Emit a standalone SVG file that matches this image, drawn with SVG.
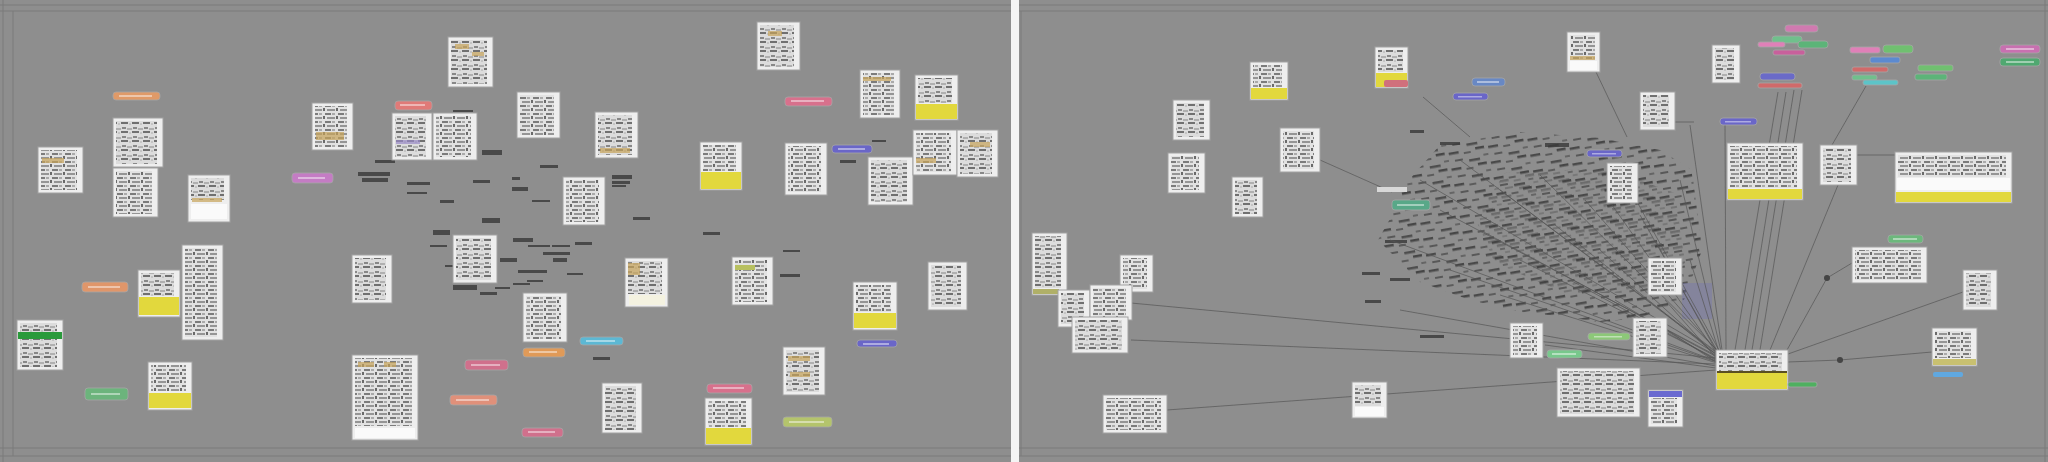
<svg xmlns="http://www.w3.org/2000/svg" width="2048" height="462" viewBox="0 0 2048 462">
<defs>
<pattern id="t" width="13" height="8" patternUnits="userSpaceOnUse">
<rect width="13" height="8" fill="#e2e2e2"/>
<rect x="0" y="1" width="6" height="2" fill="#7c7c7c"/>
<rect x="7" y="1" width="3" height="2" fill="#aaa"/>
<rect x="2" y="5" width="8" height="2" fill="#959595"/>
<rect x="11" y="4" width="2" height="3" fill="#6a6a6a"/>
</pattern>
<pattern id="t2" width="11" height="9" patternUnits="userSpaceOnUse">
<rect width="11" height="9" fill="#dcdcdc"/>
<rect x="1" y="1" width="4" height="2" fill="#888"/>
<rect x="6" y="2" width="5" height="2" fill="#b0b0b0"/>
<rect x="0" y="5" width="7" height="2" fill="#707070"/>
<rect x="8" y="6" width="2" height="2" fill="#c4c4c4"/>
</pattern>
<pattern id="d" width="40" height="16" patternUnits="userSpaceOnUse" patternTransform="rotate(-10)">
<rect x="0" y="2" width="10" height="2.5" fill="#3a3a3a"/>
<rect x="15" y="4" width="7" height="2" fill="#505050"/>
<rect x="27" y="1" width="9" height="2.5" fill="#343434"/>
<rect x="5" y="10" width="8" height="2" fill="#4a4a4a"/>
<rect x="19" y="12" width="11" height="2.5" fill="#3e3e3e"/>
<rect x="34" y="9" width="5" height="2" fill="#5a5a5a"/>
</pattern>
<filter id="soft" x="0" y="0" width="1" height="1"><feGaussianBlur stdDeviation="0.55"/></filter>
</defs>
<style>
.bg{fill:#8e8e8e}
.fr{stroke:#7b7b7b;stroke-width:1;fill:none}
.card{fill:#eeeeee;stroke:#a2a2a2;stroke-width:1}
.tx{fill:url(#t)}
.tx2{fill:url(#t2)}
.yel{fill:#e2d83c}
.wb{fill:#fafafa}
.tan{fill:#c8a45a;opacity:.7}
.pill{stroke:#a6a6a6;stroke-width:.8}
.pt{fill:#fff;opacity:.45}
.lb{fill:#3a3a3a;opacity:.8}
.conn line{stroke:#555;stroke-width:1;fill:none;opacity:.7}
</style>
<rect class="bg" x="0" y="0" width="2048" height="462"/>
<g id="scene" filter="url(#soft)">
<g id="frame">
<line class="fr" x1="0" y1="5" x2="2048" y2="5"/>
<line class="fr" x1="0" y1="11" x2="2048" y2="11"/>
<line class="fr" x1="0" y1="448" x2="2048" y2="448"/>
<line class="fr" x1="0" y1="456" x2="2048" y2="456"/>
<line class="fr" x1="3" y1="0" x2="3" y2="462"/>
<line class="fr" x1="13" y1="11" x2="13" y2="456"/>
<line class="fr" x1="1021" y1="11" x2="1021" y2="456"/>
<line class="fr" x1="2045" y1="0" x2="2045" y2="462"/>
<rect x="1011" y="0" width="8" height="462" fill="#f4f4f4"/>
</g>

<g id="dense-left">
<rect class="lb" x="358" y="172" width="32" height="4"/><rect class="lb" x="362" y="178" width="26" height="4"/>
<rect class="lb" x="482" y="150" width="20" height="5"/><rect class="lb" x="512" y="177" width="8" height="3"/>
<rect class="lb" x="512" y="187" width="16" height="4"/><rect class="lb" x="407" y="182" width="23" height="3"/>
<rect class="lb" x="407" y="192" width="20" height="2"/><rect class="lb" x="473" y="180" width="17" height="3"/>
<rect class="lb" x="532" y="200" width="18" height="2"/><rect class="lb" x="612" y="175" width="20" height="4"/>
<rect class="lb" x="612" y="181" width="18" height="3"/><rect class="lb" x="612" y="185" width="14" height="2"/>
<rect class="lb" x="453" y="110" width="20" height="2"/><rect class="lb" x="633" y="217" width="17" height="3"/>
<rect class="lb" x="482" y="218" width="18" height="5"/><rect class="lb" x="433" y="230" width="17" height="5"/>
<rect class="lb" x="430" y="245" width="17" height="2"/><rect class="lb" x="513" y="238" width="20" height="4"/>
<rect class="lb" x="528" y="245" width="22" height="2"/><rect class="lb" x="552" y="245" width="18" height="2"/>
<rect class="lb" x="543" y="252" width="27" height="3"/><rect class="lb" x="553" y="258" width="14" height="4"/>
<rect class="lb" x="500" y="258" width="17" height="4"/><rect class="lb" x="445" y="265" width="10" height="2"/>
<rect class="lb" x="518" y="270" width="29" height="3"/><rect class="lb" x="567" y="273" width="16" height="2"/>
<rect class="lb" x="527" y="280" width="16" height="2"/><rect class="lb" x="513" y="283" width="17" height="2"/>
<rect class="lb" x="495" y="287" width="15" height="2"/><rect class="lb" x="453" y="285" width="24" height="5"/>
<rect class="lb" x="480" y="292" width="17" height="3"/><rect class="lb" x="575" y="242" width="17" height="3"/>
<rect class="lb" x="703" y="232" width="17" height="3"/><rect class="lb" x="593" y="357" width="17" height="3"/>
<rect class="lb" x="783" y="250" width="17" height="2"/><rect class="lb" x="780" y="274" width="20" height="3"/>
<rect class="lb" x="540" y="165" width="18" height="3"/><rect class="lb" x="590" y="200" width="14" height="3"/>
<rect class="lb" x="375" y="160" width="20" height="3"/><rect class="lb" x="440" y="200" width="14" height="3"/>
<rect class="lb" x="840" y="160" width="16" height="3"/><rect class="lb" x="872" y="140" width="14" height="2"/>
</g>

<g id="nodes-left">
<g id="L1"><rect class="card" x="38" y="147" width="45" height="46"/><rect class="tx" x="41" y="150" width="36" height="40"/><rect class="tan" x="42" y="158" width="22" height="5"/></g>
<g id="L2"><rect class="card" x="113" y="118" width="50" height="49"/><rect class="tx2" x="116" y="121" width="41" height="43"/></g>
<g id="L3"><rect class="card" x="113" y="168" width="45" height="49"/><rect class="tx" x="116" y="171" width="36" height="43"/></g>
<g id="L4"><rect class="card" x="188" y="175" width="42" height="47"/><rect class="tx2" x="191" y="178" width="33" height="22"/><rect class="tan" x="192" y="198" width="30" height="4"/><rect class="wb" x="191" y="204" width="36" height="15"/></g>
<g id="L5"><rect class="card" x="312" y="103" width="41" height="47"/><rect class="tx" x="315" y="106" width="32" height="41"/><rect class="tan" x="316" y="132" width="28" height="8"/></g>
<g id="L6"><rect class="card" x="392" y="113" width="40" height="47"/><rect class="tx2" x="395" y="116" width="31" height="41"/><rect x="396" y="140" width="24" height="4" fill="#9a8ac8" opacity=".7"/></g>
<g id="L7"><rect class="card" x="433" y="113" width="44" height="47"/><rect class="tx" x="436" y="116" width="35" height="41"/></g>
<g id="L8"><rect class="card" x="448" y="37" width="45" height="50"/><rect class="tx2" x="451" y="40" width="36" height="44"/><rect class="tan" x="455" y="44" width="14" height="5"/><rect class="tan" x="472" y="52" width="12" height="4"/></g>
<g id="L9"><rect class="card" x="517" y="92" width="43" height="46"/><rect class="tx" x="520" y="95" width="34" height="40"/></g>
<g id="L10"><rect class="card" x="595" y="112" width="43" height="46"/><rect class="tx2" x="598" y="115" width="34" height="40"/><rect class="tan" x="600" y="148" width="30" height="5"/></g>
<g id="L11"><rect class="card" x="700" y="142" width="42" height="48"/><rect class="tx" x="703" y="145" width="33" height="26"/><rect class="yel" x="701" y="172" width="40" height="17"/></g>
<g id="L12"><rect class="card" x="757" y="22" width="43" height="48"/><rect class="tx2" x="760" y="25" width="34" height="42"/><rect class="tan" x="768" y="31" width="14" height="5"/></g>
<g id="L13"><rect class="card" x="860" y="70" width="40" height="48"/><rect class="tx" x="863" y="73" width="31" height="42"/><rect class="tan" x="863" y="77" width="28" height="4"/></g>
<g id="L14"><rect class="card" x="915" y="75" width="43" height="45"/><rect class="tx2" x="918" y="78" width="34" height="25"/><rect class="yel" x="916" y="104" width="41" height="15"/></g>
<g id="L15"><rect class="card" x="785" y="143" width="42" height="52"/><rect class="tx" x="788" y="146" width="33" height="46"/></g>
<g id="L16"><rect class="card" x="868" y="157" width="45" height="48"/><rect class="tx2" x="871" y="160" width="36" height="42"/></g>
<g id="L17"><rect class="card" x="913" y="130" width="44" height="45"/><rect class="tx" x="916" y="133" width="35" height="39"/><rect class="tan" x="916" y="158" width="20" height="5"/></g>
<g id="L18"><rect class="card" x="957" y="130" width="41" height="47"/><rect class="tx2" x="960" y="133" width="32" height="41"/><rect class="tan" x="970" y="142" width="20" height="5"/></g>
<g id="L19"><rect class="card" x="563" y="177" width="42" height="48"/><rect class="tx" x="566" y="180" width="33" height="42"/></g>
<g id="L20"><rect class="card" x="138" y="270" width="42" height="47"/><rect class="tx2" x="141" y="273" width="33" height="23"/><rect class="yel" x="139" y="297" width="40" height="18"/></g>
<g id="L21"><rect class="card" x="182" y="245" width="41" height="95"/><rect class="tx" x="185" y="248" width="32" height="89"/></g>
<g id="L22"><rect class="card" x="17" y="320" width="46" height="50"/><rect class="tx2" x="20" y="323" width="37" height="44"/><rect x="18" y="332" width="44" height="7" fill="#2a9a3a"/></g>
<g id="L23"><rect class="card" x="148" y="362" width="44" height="48"/><rect class="tx" x="151" y="365" width="35" height="26"/><rect class="yel" x="149" y="393" width="42" height="15"/></g>
<g id="L24"><rect class="card" x="352" y="255" width="40" height="48"/><rect class="tx2" x="355" y="258" width="31" height="42"/></g>
<g id="L25"><rect class="card" x="352" y="355" width="66" height="85"/><rect class="tx" x="355" y="358" width="57" height="68"/><rect class="tan" x="358" y="362" width="16" height="5"/><rect class="tan" x="384" y="362" width="12" height="5"/><rect class="wb" x="355" y="428" width="60" height="10"/></g>
<g id="L26"><rect class="card" x="453" y="235" width="44" height="48"/><rect class="tx2" x="456" y="238" width="35" height="42"/></g>
<g id="L27"><rect class="card" x="523" y="293" width="44" height="49"/><rect class="tx" x="526" y="296" width="35" height="43"/></g>
<g id="L28"><rect class="card" x="625" y="258" width="43" height="49"/><rect class="tx2" x="628" y="261" width="34" height="33"/><rect class="tan" x="628" y="263" width="12" height="12"/><rect x="629" y="295" width="36" height="10" fill="#f4f2e0"/></g>
<g id="L29"><rect class="card" x="732" y="257" width="41" height="48"/><rect class="tx" x="735" y="260" width="32" height="42"/><rect x="735" y="265" width="20" height="5" fill="#b8c060"/></g>
<g id="L30"><rect class="card" x="602" y="383" width="40" height="50"/><rect class="tx2" x="605" y="386" width="31" height="44"/></g>
<g id="L31"><rect class="card" x="705" y="398" width="47" height="47"/><rect class="tx" x="708" y="401" width="38" height="26"/><rect class="yel" x="706" y="428" width="45" height="16"/></g>
<g id="L32"><rect class="card" x="783" y="347" width="42" height="48"/><rect class="tx2" x="786" y="350" width="33" height="42"/><rect class="tan" x="788" y="356" width="22" height="5"/><rect class="tan" x="790" y="372" width="20" height="5"/></g>
<g id="L33"><rect class="card" x="853" y="282" width="44" height="48"/><rect class="tx" x="856" y="285" width="35" height="27"/><rect class="yel" x="854" y="313" width="42" height="15"/></g>
<g id="L34"><rect class="card" x="928" y="262" width="39" height="48"/><rect class="tx2" x="931" y="265" width="30" height="42"/></g>

<g id="P1"><rect class="pill" x="113" y="92" width="47" height="8" rx="3" fill="#e09a68"/><rect class="pt" x="119" y="95" width="33" height="2"/></g>
<g id="P2"><rect class="pill" x="292" y="173" width="41" height="10" rx="3" fill="#c47cc4"/><rect class="pt" x="298" y="177" width="27" height="2"/></g>
<g id="P3"><rect class="pill" x="395" y="101" width="37" height="9" rx="3" fill="#e07a78"/><rect class="pt" x="400" y="104" width="25" height="2"/></g>
<g id="P4"><rect class="pill" x="785" y="97" width="47" height="9" rx="3" fill="#d8708c"/><rect class="pt" x="791" y="100" width="33" height="2"/></g>
<g id="P5"><rect class="pill" x="832" y="145" width="40" height="8" rx="3" fill="#6a66c8"/><rect class="pt" x="838" y="148" width="27" height="2"/></g>
<g id="P6"><rect class="pill" x="82" y="282" width="46" height="10" rx="3" fill="#e0966a"/><rect class="pt" x="88" y="286" width="32" height="2"/></g>
<g id="P7"><rect class="pill" x="85" y="388" width="43" height="12" rx="3" fill="#6cb47c"/><rect class="pt" x="91" y="393" width="29" height="2"/></g>
<g id="P8"><rect class="pill" x="523" y="348" width="42" height="9" rx="3" fill="#e09a58"/><rect class="pt" x="529" y="351" width="28" height="2"/></g>
<g id="P9"><rect class="pill" x="580" y="337" width="43" height="8" rx="3" fill="#5cb8d4"/><rect class="pt" x="586" y="340" width="29" height="2"/></g>
<g id="P10"><rect class="pill" x="465" y="360" width="43" height="10" rx="3" fill="#d0708c"/><rect class="pt" x="471" y="364" width="29" height="2"/></g>
<g id="P11"><rect class="pill" x="450" y="395" width="47" height="10" rx="3" fill="#e0907a"/><rect class="pt" x="456" y="399" width="33" height="2"/></g>
<g id="P12"><rect class="pill" x="522" y="428" width="41" height="9" rx="3" fill="#d0708c"/><rect class="pt" x="528" y="431" width="27" height="2"/></g>
<g id="P13"><rect class="pill" x="707" y="384" width="45" height="9" rx="3" fill="#d8708c"/><rect class="pt" x="713" y="387" width="31" height="2"/></g>
<g id="P14"><rect class="pill" x="783" y="417" width="49" height="10" rx="3" fill="#b4c46c"/><rect class="pt" x="789" y="421" width="35" height="2"/></g>
<g id="P15"><rect class="pill" x="857" y="340" width="40" height="7" rx="3" fill="#6a66c8"/><rect class="pt" x="863" y="343" width="26" height="2"/></g>
</g>

<g id="dense-right">
<polygon points="1440,145 1520,132 1600,138 1660,150 1692,170 1702,250 1684,300 1640,318 1600,322 1560,316 1520,312 1470,300 1420,282 1378,240 1395,210 1400,190" fill="url(#d)" opacity=".8"/>
<polygon points="1500,170 1600,165 1670,190 1680,260 1640,290 1560,290 1490,260 1470,215" fill="url(#d)" opacity=".4" transform="translate(5,3)"/>
<rect x="1682" y="283" width="30" height="36" fill="#7272b4" opacity=".35"/>
<rect class="lb" x="1385" y="240" width="22" height="3"/><rect class="lb" x="1362" y="272" width="18" height="3"/>
<rect class="lb" x="1390" y="278" width="20" height="3"/><rect class="lb" x="1420" y="335" width="24" height="3"/>
<rect class="lb" x="1440" y="142" width="20" height="3"/><rect class="lb" x="1545" y="143" width="24" height="4"/>
<rect class="lb" x="1365" y="300" width="16" height="3"/><rect class="lb" x="1410" y="130" width="14" height="3"/>
</g>

<g id="connectors" class="conn">
<line x1="1131" y1="303" x2="1716" y2="358"/>
<line x1="1131" y1="340" x2="1716" y2="364"/>
<line x1="1167" y1="410" x2="1716" y2="370"/>
<line x1="1420" y1="180" x2="1717" y2="354"/>
<line x1="1440" y1="210" x2="1717" y2="356"/>
<line x1="1460" y1="160" x2="1718" y2="353"/>
<line x1="1480" y1="230" x2="1717" y2="357"/>
<line x1="1500" y1="190" x2="1718" y2="354"/>
<line x1="1520" y1="260" x2="1717" y2="359"/>
<line x1="1540" y1="175" x2="1719" y2="352"/>
<line x1="1555" y1="225" x2="1718" y2="356"/>
<line x1="1570" y1="280" x2="1717" y2="360"/>
<line x1="1585" y1="200" x2="1719" y2="353"/>
<line x1="1600" y1="250" x2="1718" y2="357"/>
<line x1="1615" y1="300" x2="1717" y2="361"/>
<line x1="1625" y1="180" x2="1720" y2="352"/>
<line x1="1640" y1="215" x2="1719" y2="354"/>
<line x1="1655" y1="240" x2="1719" y2="356"/>
<line x1="1665" y1="300" x2="1718" y2="360"/>
<line x1="1680" y1="180" x2="1721" y2="351"/>
<line x1="1690" y1="260" x2="1720" y2="355"/>
<line x1="1450" y1="270" x2="1717" y2="362"/>
<line x1="1500" y1="295" x2="1717" y2="363"/>
<line x1="1390" y1="240" x2="1716" y2="361"/>
<line x1="1400" y1="310" x2="1716" y2="366"/>
<line x1="1545" y1="345" x2="1716" y2="368"/>
<line x1="1690" y1="125" x2="1722" y2="350"/>
<line x1="1725" y1="125" x2="1726" y2="350"/>
<line x1="1778" y1="92" x2="1735" y2="350"/>
<line x1="1786" y1="92" x2="1745" y2="350"/>
<line x1="1794" y1="90" x2="1752" y2="350"/>
<line x1="1802" y1="90" x2="1760" y2="350"/>
<line x1="1866" y1="86" x2="1832" y2="145"/>
<line x1="1838" y1="185" x2="1770" y2="350"/>
<line x1="1612" y1="205" x2="1716" y2="352"/>
<line x1="1667" y1="330" x2="1716" y2="362"/>
<line x1="1787" y1="350" x2="1827" y2="278"/>
<line x1="1827" y1="278" x2="1852" y2="263"/>
<line x1="1788" y1="354" x2="1963" y2="292"/>
<line x1="1788" y1="362" x2="1840" y2="360"/>
<line x1="1840" y1="360" x2="1932" y2="352"/>
<line x1="1320" y1="160" x2="1392" y2="192"/>
<line x1="1596" y1="72" x2="1627" y2="137"/>
<line x1="1423" y1="97" x2="1470" y2="137"/>
<line x1="1675" y1="122" x2="1694" y2="122"/>
<line x1="1857" y1="155" x2="1895" y2="155"/>
<circle cx="1827" cy="278" r="3" fill="#444"/>
<circle cx="1840" cy="360" r="3" fill="#444"/>
</g>

<g id="nodes-right">
<g id="R1"><rect class="card" x="1250" y="62" width="38" height="38"/><rect class="tx" x="1253" y="65" width="29" height="22"/><rect class="yel" x="1251" y="88" width="36" height="11"/></g>
<g id="R2"><rect class="card" x="1173" y="100" width="37" height="40"/><rect class="tx2" x="1176" y="103" width="28" height="34"/></g>
<g id="R3"><rect class="card" x="1168" y="153" width="37" height="40"/><rect class="tx" x="1171" y="156" width="28" height="34"/></g>
<g id="R4"><rect class="card" x="1232" y="177" width="31" height="40"/><rect class="tx2" x="1235" y="180" width="22" height="34"/></g>
<g id="R5"><rect class="card" x="1280" y="128" width="40" height="44"/><rect class="tx" x="1283" y="131" width="31" height="38"/></g>
<g id="R6"><rect class="card" x="1375" y="47" width="33" height="41"/><rect class="tx2" x="1378" y="50" width="25" height="22"/><rect class="yel" x="1376" y="73" width="31" height="14"/><rect x="1384" y="80" width="24" height="7" rx="2" fill="#d0707c"/></g>
<g id="R7"><rect class="card" x="1567" y="32" width="33" height="40"/><rect class="tx" x="1570" y="35" width="25" height="25"/><rect class="tan" x="1570" y="56" width="25" height="4"/><rect class="wb" x="1570" y="61" width="27" height="9"/></g>
<g id="R8"><rect class="card" x="1640" y="92" width="35" height="38"/><rect class="tx2" x="1643" y="95" width="26" height="32"/></g>
<g id="R9"><rect class="card" x="1607" y="163" width="31" height="40"/><rect class="tx" x="1610" y="166" width="22" height="34"/></g>
<g id="R10"><rect class="card" x="1712" y="45" width="28" height="38"/><rect class="tx2" x="1715" y="48" width="19" height="32"/></g>
<g id="R11"><rect class="card" x="1727" y="143" width="76" height="57"/><rect class="tx" x="1730" y="146" width="67" height="42"/><rect class="yel" x="1728" y="189" width="74" height="10"/></g>
<g id="R12"><rect class="card" x="1820" y="145" width="37" height="40"/><rect class="tx2" x="1823" y="148" width="28" height="34"/></g>
<g id="R13"><rect class="card" x="1895" y="152" width="117" height="51"/><rect class="tx" x="1898" y="155" width="108" height="22"/><rect class="wb" x="1897" y="178" width="113" height="12"/><rect class="yel" x="1896" y="192" width="115" height="10"/></g>
<g id="R14"><rect class="card" x="1032" y="233" width="35" height="62"/><rect class="tx2" x="1035" y="236" width="26" height="52"/><rect x="1033" y="289" width="26" height="5" fill="#b0b068"/></g>
<g id="R15"><rect class="card" x="1120" y="255" width="33" height="37"/><rect class="tx" x="1123" y="258" width="24" height="31"/></g>
<g id="R16"><rect class="card" x="1058" y="290" width="32" height="37"/><rect class="tx2" x="1061" y="293" width="23" height="31"/></g>
<g id="R17"><rect class="card" x="1090" y="285" width="42" height="35"/><rect class="tx" x="1093" y="288" width="33" height="29"/></g>
<g id="R18"><rect class="card" x="1072" y="317" width="56" height="36"/><rect class="tx2" x="1075" y="320" width="47" height="30"/></g>
<g id="R19"><rect class="card" x="1103" y="395" width="64" height="38"/><rect class="tx" x="1106" y="398" width="55" height="32"/></g>
<g id="R20"><rect class="card" x="1352" y="382" width="35" height="36"/><rect class="tx2" x="1355" y="385" width="26" height="21"/><rect class="wb" x="1355" y="407" width="29" height="9"/></g>
<g id="R21"><rect class="card" x="1648" y="258" width="34" height="37"/><rect class="tx" x="1651" y="261" width="25" height="31"/></g>
<g id="R22"><rect class="card" x="1633" y="318" width="34" height="39"/><rect class="tx2" x="1636" y="321" width="25" height="33"/></g>
<g id="R23"><rect class="card" x="1510" y="323" width="33" height="35"/><rect class="tx" x="1513" y="326" width="24" height="29"/></g>
<g id="R24"><rect class="card" x="1557" y="368" width="83" height="49"/><rect class="tx2" x="1560" y="371" width="74" height="43"/></g>
<g id="R25"><rect class="card" x="1648" y="390" width="35" height="37"/><rect x="1649" y="391" width="33" height="6" fill="#6a6ad0"/><rect class="tx" x="1651" y="398" width="26" height="26"/></g>
<g id="R26"><rect class="card" x="1716" y="350" width="72" height="40" stroke="#303048" stroke-width="1.5"/><rect class="tx2" x="1719" y="353" width="63" height="18"/><rect x="1717" y="371" width="70" height="2" fill="#5a5020"/><rect class="yel" x="1717" y="373" width="70" height="16"/></g>
<g id="R27"><rect class="card" x="1852" y="247" width="75" height="36"/><rect class="tx" x="1855" y="250" width="66" height="30"/></g>
<g id="R28"><rect class="card" x="1963" y="270" width="34" height="40"/><rect class="tx2" x="1966" y="273" width="25" height="34"/></g>
<g id="R29"><rect class="card" x="1932" y="328" width="45" height="38"/><rect class="tx" x="1935" y="331" width="36" height="27"/><rect x="1933" y="359" width="43" height="6" fill="#c8c070"/><rect x="1933" y="372" width="30" height="5" rx="2" fill="#60a8e0"/></g>

<g id="Q1"><rect class="pill" x="1472" y="78" width="33" height="8" rx="3" fill="#6888c4"/><rect class="pt" x="1477" y="81" width="22" height="2"/></g>
<g id="Q2"><rect class="pill" x="1453" y="93" width="35" height="7" rx="3" fill="#6a66c8"/><rect class="pt" x="1458" y="96" width="24" height="1.5"/></g>
<g id="Q3"><rect class="pill" x="1587" y="150" width="35" height="7" rx="3" fill="#6a66c8"/><rect class="pt" x="1592" y="153" width="24" height="1.5"/></g>
<g id="Q4"><rect class="pill" x="1720" y="118" width="37" height="7" rx="3" fill="#6a66c8"/><rect class="pt" x="1725" y="121" width="26" height="1.5"/></g>
<g id="Q5"><rect x="1377" y="187" width="30" height="5" fill="#d8d8d8"/></g>
<g id="Q6"><rect class="pill" x="1392" y="200" width="38" height="10" rx="3" fill="#58a888"/><rect class="pt" x="1397" y="204" width="27" height="2"/></g>
<g id="Q7"><rect class="pill" x="1588" y="333" width="42" height="7" rx="3" fill="#8cc878"/><rect class="pt" x="1594" y="336" width="28" height="1.5"/></g>
<g id="Q8"><rect class="pill" x="1547" y="350" width="35" height="8" rx="3" fill="#78c88c"/><rect class="pt" x="1552" y="353" width="24" height="2"/></g>
<g id="Q9"><rect class="pill" x="1788" y="382" width="29" height="5" rx="2" fill="#50b060"/></g>
<g id="Q10"><rect class="pill" x="1888" y="235" width="35" height="8" rx="3" fill="#6cb87c"/><rect class="pt" x="1893" y="238" width="24" height="2"/></g>
<g id="QA1"><rect class="pill" x="1785" y="25" width="33" height="7" rx="3" fill="#d07ab0"/></g>
<g id="QA2"><rect class="pill" x="1772" y="36" width="30" height="7" rx="3" fill="#70c08c"/></g>
<g id="QA3"><rect class="pill" x="1798" y="41" width="30" height="7" rx="3" fill="#5cb478"/></g>
<g id="QA4"><rect class="pill" x="1758" y="42" width="27" height="5" rx="2" fill="#e080b8"/></g>
<g id="QA5"><rect class="pill" x="1773" y="50" width="32" height="5" rx="2" fill="#c8609c"/></g>
<g id="QA6"><rect class="pill" x="1760" y="73" width="35" height="7" rx="3" fill="#6a6ac8"/></g>
<g id="QA7"><rect class="pill" x="1758" y="83" width="44" height="5" rx="2" fill="#d06a6a"/></g>
<g id="QB1"><rect class="pill" x="1850" y="47" width="30" height="6" rx="2" fill="#e080b8"/></g>
<g id="QB2"><rect class="pill" x="1883" y="45" width="30" height="8" rx="3" fill="#70c070"/></g>
<g id="QB3"><rect class="pill" x="1870" y="57" width="30" height="6" rx="2" fill="#5c8ad0"/></g>
<g id="QB4"><rect class="pill" x="1852" y="67" width="36" height="5" rx="2" fill="#d06a6a"/></g>
<g id="QB5"><rect class="pill" x="1852" y="75" width="25" height="5" rx="2" fill="#70c08c"/></g>
<g id="QB6"><rect class="pill" x="1863" y="80" width="35" height="5" rx="2" fill="#5cc4c8"/></g>
<g id="QC1"><rect class="pill" x="1918" y="65" width="35" height="6" rx="2" fill="#70c070"/></g>
<g id="QC2"><rect class="pill" x="1915" y="74" width="32" height="6" rx="2" fill="#5cb478"/></g>
<g id="QD1"><rect class="pill" x="2000" y="45" width="40" height="8" rx="3" fill="#c870b0"/><rect class="pt" x="2006" y="48" width="28" height="2"/></g>
<g id="QD2"><rect class="pill" x="2000" y="58" width="40" height="8" rx="3" fill="#50a870"/><rect class="pt" x="2006" y="61" width="28" height="2"/></g>
</g>
</g>
</svg>
